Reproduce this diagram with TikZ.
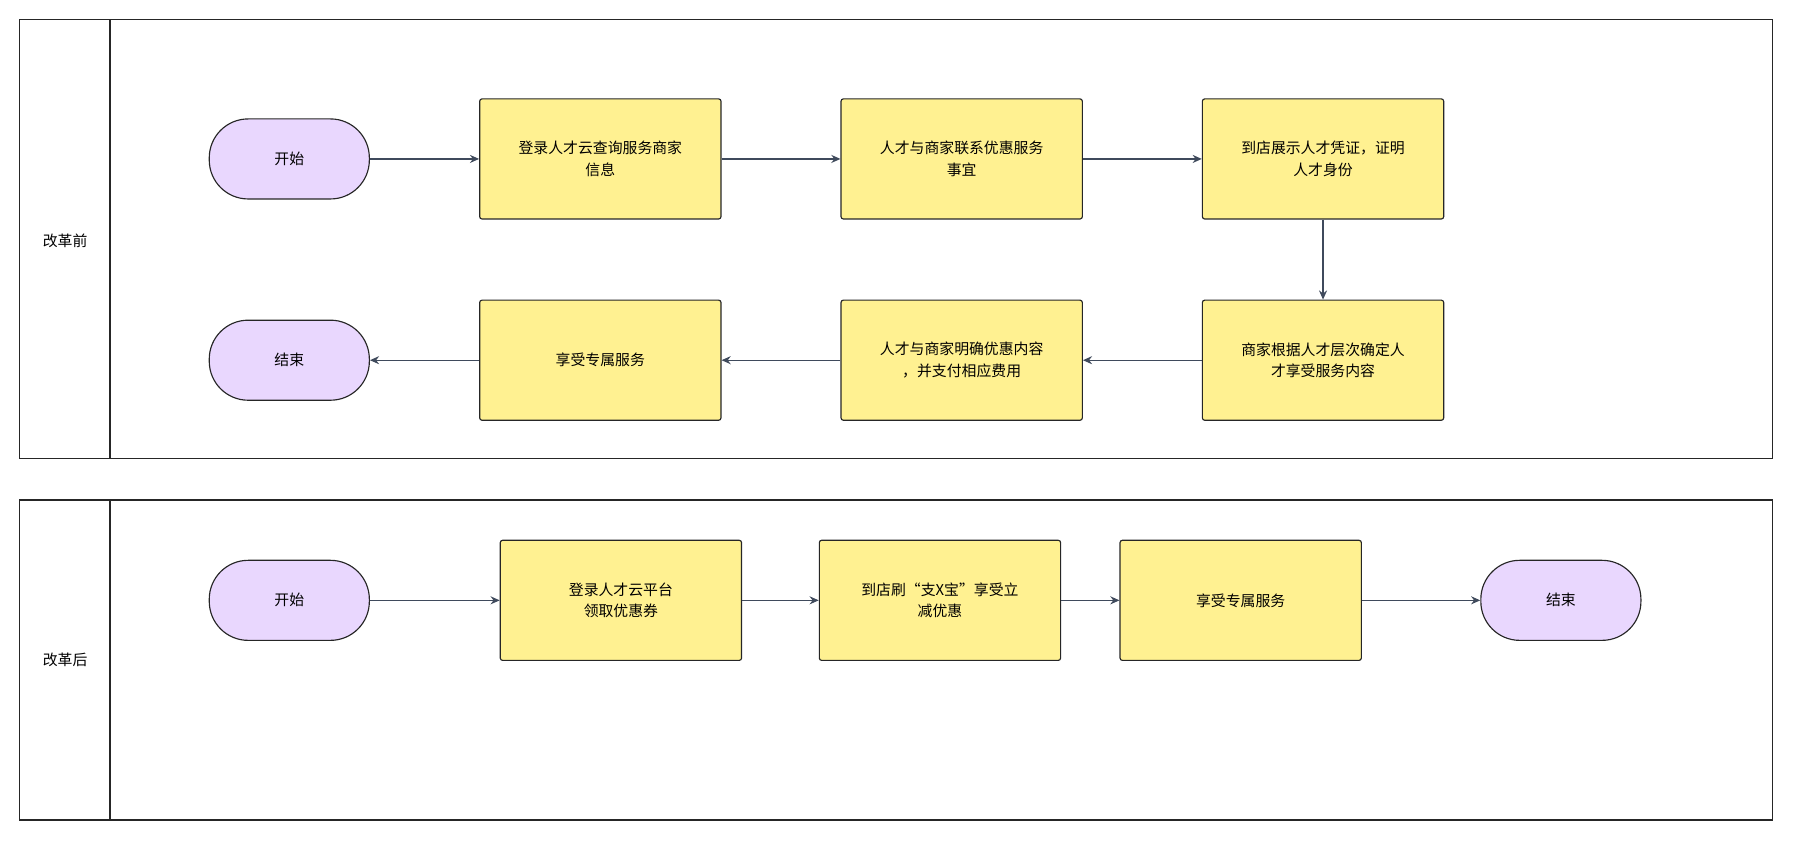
\documentclass[tikz,border=0pt]{standalone}
\usepackage{fontspec}
\setmainfont{Noto Sans CJK SC}
\usetikzlibrary{arrows.meta}
\definecolor{boxfill}{HTML}{FFF191}
\definecolor{pillfill}{HTML}{E9D7FE}
\definecolor{linecol}{HTML}{3F4A5C}

\begin{document}
\begin{tikzpicture}[x=1pt, y=-1pt, font=\fontsize{13}{19}\selectfont,
  task/.style={rectangle, draw=black!85, fill=boxfill, rounded corners=2pt, line width=1pt,
    minimum width=211pt, minimum height=105pt, align=center},
  pill/.style={rectangle, draw=black!85, fill=pillfill, rounded corners=34pt, line width=1pt,
    minimum width=140pt, minimum height=70pt},
  lane/.style={draw=black!85, line width=1.5pt},
  flow/.style={draw=linecol, line width=1.2pt, -{Stealth[length=8pt,width=7pt]}}]
 \useasboundingbox (0,0) rectangle (1568,735);
 % lanes
 \draw[lane] (17,17) rectangle (1550,401);
 \draw[lane] (96,17) -- (96,401);
 \node (lanebefore) at (57,211) {改革前};
 \draw[lane] (17,437) rectangle (1550,717);
 \draw[lane] (96,437) -- (96,717);
 \node (laneafter) at (57,577) {改革后};

 % before
 \node[pill] (start1) at (253,139) {开始};
 \node[task] (login1) at (525,139) {登录人才云查询服务商家\\信息};
 \node[task] (contact) at (841,139) {人才与商家联系优惠服务\\事宜};
 \node[task] (show) at (1157,139) {到店展示人才凭证，证明\\人才身份};
 \node[task] (level) at (1157,315) {商家根据人才层次确定人\\才享受服务内容};
 \node[task] (pay) at (841,315) {人才与商家明确优惠内容\\，并支付相应费用};
 \node[task] (enjoy1) at (525,315) {享受专属服务};
 \node[pill] (end1) at (253,315) {结束};

 \draw[flow] (start1) -- (login1);
 \draw[flow] (login1) -- (contact);
 \draw[flow] (contact) -- (show);
 \draw[flow] (show) -- (level);
 \draw[flow] (level) -- (pay);
 \draw[flow] (pay) -- (enjoy1);
 \draw[flow] (enjoy1) -- (end1);

 % after
 \node[pill] (start2) at (253,525) {开始};
 \node[task] (login2) at (543,525) {登录人才云平台\\领取优惠券};
 \node[task] (scan) at (822,525) {到店刷“支X宝”享受立\\减优惠};
 \node[task] (enjoy2) at (1085,525) {享受专属服务};
 \node[pill] (end2) at (1365,525) {结束};

 \draw[flow] (start2) -- (login2);
 \draw[flow] (login2) -- (scan);
 \draw[flow] (scan) -- (enjoy2);
 \draw[flow] (enjoy2) -- (end2);
\end{tikzpicture}
\end{document}
